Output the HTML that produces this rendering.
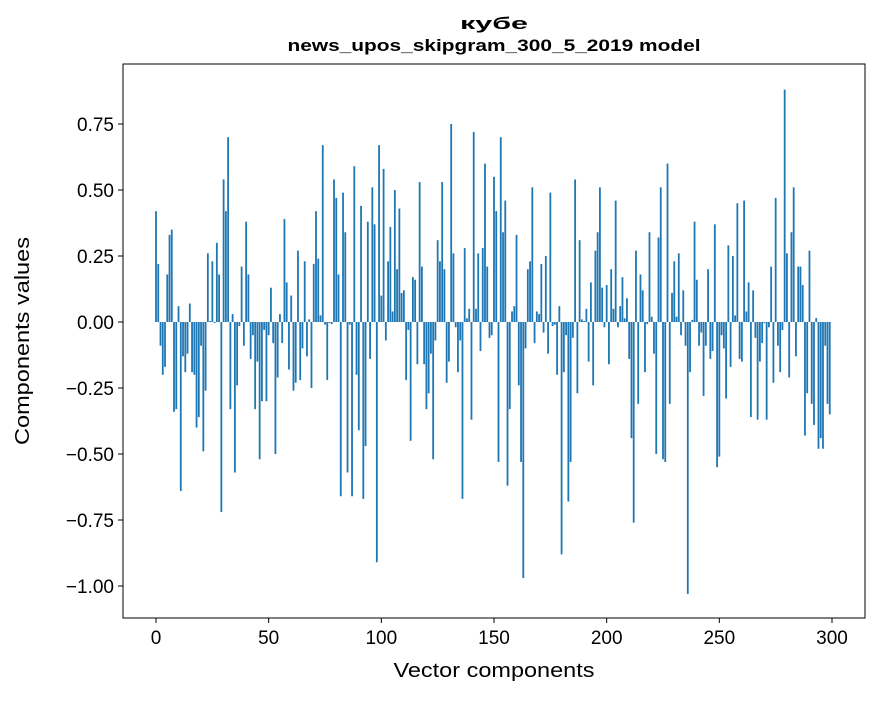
<!DOCTYPE html>
<html><head><meta charset="utf-8"><style>
body{margin:0;background:#fff;}
svg text{font-family:"Liberation Sans","DejaVu Sans",sans-serif;}
</style></head><body>
<svg id="chart" width="880" height="696" xmlns="http://www.w3.org/2000/svg">
<rect x="0" y="0" width="880" height="696" fill="#fff"/>
<text x="494" y="29" text-anchor="middle" font-size="17" font-weight="bold" textLength="68" lengthAdjust="spacingAndGlyphs">кубе</text>
<text x="494" y="51" text-anchor="middle" font-size="17" font-weight="bold" textLength="413" lengthAdjust="spacingAndGlyphs">news_upos_skipgram_300_5_2019 model</text>
<g id="bars"></g>
<g id="xticks"></g>
<g id="yticks"></g>
<rect x="123" y="64" width="742" height="554" fill="none" stroke="#000" stroke-width="1"/>
<text x="494" y="677" text-anchor="middle" font-size="20" textLength="201" lengthAdjust="spacingAndGlyphs">Vector components</text>
<text transform="translate(29,341) rotate(-90)" text-anchor="middle" font-size="20" textLength="208" lengthAdjust="spacingAndGlyphs">Components values</text>
</svg>
<script>
const values = [0.42,0.22,-0.09,-0.20,-0.17,0.18,0.33,0.35,-0.34,-0.33,
0.06,-0.64,-0.13,-0.19,-0.12,0.07,-0.19,-0.20,-0.40,-0.36,
-0.09,-0.49,-0.26,0.26,0.004,0.23,-0.004,0.30,0.18,-0.72,
0.54,0.42,0.70,-0.33,0.03,-0.57,-0.24,-0.015,0.21,-0.09,
0.38,0.18,-0.14,-0.05,-0.33,-0.15,-0.52,-0.30,-0.03,-0.30,
-0.05,0.13,-0.08,-0.50,-0.21,0.03,-0.08,0.39,0.15,-0.18,
0.10,-0.26,-0.23,0.27,-0.22,-0.10,0.23,-0.13,0.01,-0.25,
0.22,0.42,0.24,0.025,0.67,-0.01,-0.22,-0.004,-0.008,0.54,
0.47,0.18,-0.66,0.49,0.34,-0.57,-0.01,-0.66,0.59,-0.20,
-0.41,0.44,-0.67,-0.47,0.38,-0.14,0.51,0.37,-0.91,0.67,
0.10,0.58,-0.07,0.23,0.36,0.04,0.50,0.20,0.43,0.11,
0.12,-0.22,-0.03,-0.45,0.17,0.16,-0.16,0.53,0.21,-0.16,
-0.33,-0.27,-0.12,-0.52,-0.07,0.31,0.23,0.53,0.20,-0.23,
-0.15,0.75,0.26,-0.02,-0.19,-0.07,-0.67,0.28,0.014,0.05,
-0.37,0.72,0.05,0.26,-0.11,0.28,0.60,0.21,-0.06,-0.05,
0.55,0.42,-0.53,0.70,0.34,0.46,-0.62,-0.33,0.04,0.06,
0.33,-0.24,-0.53,-0.97,-0.10,0.20,0.23,0.51,-0.08,0.04,
0.03,0.22,-0.04,0.25,-0.12,0.49,-0.015,-0.01,-0.20,0.06,
-0.88,-0.19,-0.05,-0.68,-0.53,-0.06,0.54,-0.27,0.31,0.01,
0.004,0.05,-0.15,0.15,-0.24,0.27,0.34,0.51,0.13,-0.02,
0.14,-0.16,0.20,0.05,0.46,-0.02,0.06,0.17,0.014,0.09,
-0.14,-0.44,-0.76,0.27,-0.31,0.18,0.12,-0.19,-0.008,0.34,
0.02,-0.12,-0.50,0.32,0.51,-0.52,-0.53,0.60,-0.31,0.11,
0.23,0.02,0.26,-0.05,0.12,-0.09,-1.03,-0.19,0.008,0.38,
0.16,-0.09,-0.04,-0.28,-0.09,0.20,-0.14,-0.11,0.37,-0.55,
-0.51,-0.05,-0.10,-0.29,0.29,-0.17,0.25,0.025,0.45,-0.14,
-0.15,0.46,0.04,0.15,-0.36,0.12,-0.06,-0.37,-0.15,-0.08,
-0.004,-0.37,-0.02,0.21,-0.23,0.47,-0.09,-0.19,-0.03,0.88,
0.26,-0.21,0.34,0.51,-0.13,0.21,0.21,0.14,-0.43,-0.27,
0.27,-0.31,-0.39,0.015,-0.48,-0.44,-0.48,-0.09,-0.31,-0.35];
const xTicks = [0,50,100,150,200,250,300];
const yTicks = [0.75,0.50,0.25,0.00,-0.25,-0.50,-0.75,-1.00];
const yTickLabels = ["0.75","0.50","0.25","0.00","\u22120.25","\u22120.50","\u22120.75","\u22121.00"];

const NS="http://www.w3.org/2000/svg";
function xs(i){return 156 + i*(676/300);}
function ys(v){return 322 - v*264;}
const bw = 0.8*(676/300);
const bars=document.getElementById('bars');
values.forEach((v,i)=>{
  const r=document.createElementNS(NS,'rect');
  const y0=ys(0), y1=ys(v);
  r.setAttribute('x',xs(i)-bw/2);
  r.setAttribute('y',Math.min(y0,y1));
  r.setAttribute('width',bw);
  r.setAttribute('height',Math.max(Math.abs(y1-y0),0.3));
  r.setAttribute('fill','#1f77b4');
  
  
  bars.appendChild(r);
});
const xg=document.getElementById('xticks');
xTicks.forEach(t=>{
  const l=document.createElementNS(NS,'line');
  l.setAttribute('x1',xs(t));l.setAttribute('x2',xs(t));
  l.setAttribute('y1',618);l.setAttribute('y2',623);
  l.setAttribute('stroke','#000');
  
  
  xg.appendChild(l);
  const tx=document.createElementNS(NS,'text');
  tx.setAttribute('x',xs(t));tx.setAttribute('y',644);
  tx.setAttribute('text-anchor','middle');tx.setAttribute('font-size','19');
  tx.textContent=String(t);
  
  
  xg.appendChild(tx);
});
const yg=document.getElementById('yticks');
yTicks.forEach((t,k)=>{
  const l=document.createElementNS(NS,'line');
  l.setAttribute('x1',118);l.setAttribute('x2',123);
  l.setAttribute('y1',ys(t));l.setAttribute('y2',ys(t));
  l.setAttribute('stroke','#000');
  
  
  yg.appendChild(l);
  const tx=document.createElementNS(NS,'text');
  tx.setAttribute('x',114);tx.setAttribute('y',ys(t)+7);
  tx.setAttribute('text-anchor','end');tx.setAttribute('font-size','19');
  tx.textContent=yTickLabels[k];
  
  
  yg.appendChild(tx);
});
</script>
</body></html>
